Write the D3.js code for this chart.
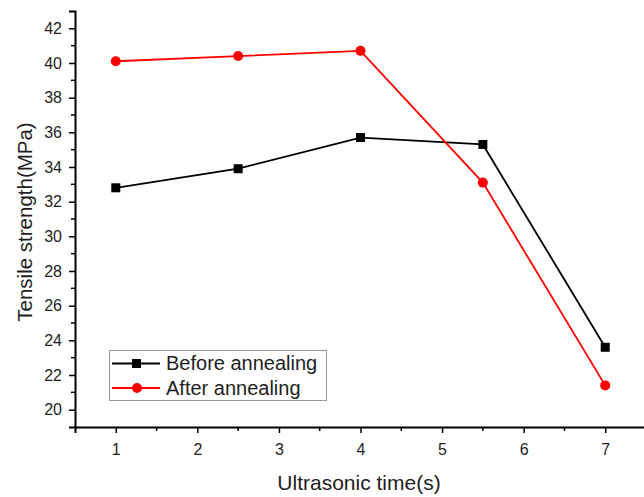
<!DOCTYPE html>
<html>
  <head>
    <meta http-equiv="Content-Type" content="text/html;charset=utf-8"/>
    <script src="https://d3js.org/d3.v7.min.js"></script>
    <style>
      body { margin: 0; background: #fff; }
      text { font-family: "Liberation Sans", Arial, sans-serif; fill: #1e1e1e; }
    </style>
  </head>
  <body>
    <script type="text/javascript">
        // data
        const times = [1, 2.5, 4, 5.5, 7]
        const before = [32.8, 33.9, 35.7, 35.3, 23.6]
        const after = [40.1, 40.4, 40.7, 33.1, 21.4]
        const xTicks = [1, 2, 3, 4, 5, 6, 7]
        const yTicks = [20, 22, 24, 26, 28, 30, 32, 34, 36, 38, 40, 42]
        const seriesNames = ['Before annealing', 'After annealing']

        const width = 644,
              height = 497

        const svg = d3.select('body').append('svg')
            .attr('width', width)
            .attr('height', height)

        const x = d3.scaleLinear().domain([0.5, 7.5]).range([75, 646])
        const y = d3.scaleLinear().domain([19, 43]).range([427, 11])

        // axes
        const xAxis = svg.append('g')
            .attr('transform', 'translate(0,427)')
            .call(d3.axisBottom(x).tickValues(xTicks).tickSize(6).tickPadding(10.5).tickFormat(d3.format('d')))
        xAxis.append('g').selectAll('line')
            .data(d3.range(1.5, 7.5, 1))
            .join('line')
            .attr('x1', d => x(d)).attr('x2', d => x(d))
            .attr('y1', 0).attr('y2', 4)
            .attr('stroke', '#000').attr('stroke-width', 1.5)

        const yAxis = svg.append('g')
            .attr('transform', 'translate(75,0)')
            .call(d3.axisLeft(y).tickValues(yTicks).tickSize(6).tickPadding(7))
        yAxis.append('g').selectAll('line')
            .data(d3.range(21, 43, 2))
            .join('line')
            .attr('y1', d => y(d)).attr('y2', d => y(d))
            .attr('x1', 0).attr('x2', -4)
            .attr('stroke', '#000').attr('stroke-width', 1.5)

        svg.selectAll('.domain').attr('stroke', '#000').attr('stroke-width', 2)
        svg.selectAll('.tick line').attr('stroke', '#000').attr('stroke-width', 1.5)
        svg.selectAll('.tick text').style('font-size', '16px').style('fill', '#1e1e1e')

        svg.append('text')
            .attr('x', 359)
            .attr('y', 490)
            .attr('text-anchor', 'middle')
            .style('font-size', '21px')
            .text('Ultrasonic time(s)')

        svg.append('text')
            .attr('transform', 'translate(32,222) rotate(-90)')
            .attr('text-anchor', 'middle')
            .style('font-size', '20.5px')
            .text('Tensile strength(MPa)')

        // series
        const line = d3.line()
            .x((d, i) => x(times[i]))
            .y(d => y(d))

        svg.append('path')
            .datum(before)
            .attr('d', line)
            .attr('fill', 'none')
            .attr('stroke', '#000')
            .attr('stroke-width', 1.8)

        svg.append('path')
            .datum(after)
            .attr('d', line)
            .attr('fill', 'none')
            .attr('stroke', '#ff0000')
            .attr('stroke-width', 1.8)

        svg.append('g').selectAll('rect')
            .data(before)
            .join('rect')
            .attr('x', (d, i) => x(times[i]) - 4.5)
            .attr('y', d => y(d) - 4.5)
            .attr('width', 9).attr('height', 9)
            .attr('fill', '#000')

        svg.append('g').selectAll('circle')
            .data(after)
            .join('circle')
            .attr('cx', (d, i) => x(times[i]))
            .attr('cy', d => y(d))
            .attr('r', 5)
            .attr('fill', '#ff0000')

        // legend
        const legend = svg.append('g')
        legend.append('rect')
            .attr('x', 109.5).attr('y', 350.5)
            .attr('width', 217).attr('height', 50)
            .attr('fill', '#fff')
            .attr('stroke', '#999')
            .attr('stroke-width', 1)

        const rows = legend.selectAll('g.row')
            .data(seriesNames)
            .join('g')
            .attr('class', 'row')
            .attr('transform', (d, i) => 'translate(0,' + (363.5 + i * 24.5) + ')')

        rows.append('line')
            .attr('x1', 112).attr('x2', 160)
            .attr('stroke', (d, i) => i ? '#ff0000' : '#000')
            .attr('stroke-width', 1.8)

        rows.filter((d, i) => i === 0).append('rect')
            .attr('x', 132).attr('y', -4.5)
            .attr('width', 9).attr('height', 9)
            .attr('fill', '#000')
        rows.filter((d, i) => i === 1).append('circle')
            .attr('cx', 137).attr('r', 5)
            .attr('fill', '#ff0000')

        rows.append('text')
            .attr('x', 166)
            .attr('y', 6.5)
            .style('font-size', '20px')
            .text(d => d)
    </script>
  </body>
</html>
